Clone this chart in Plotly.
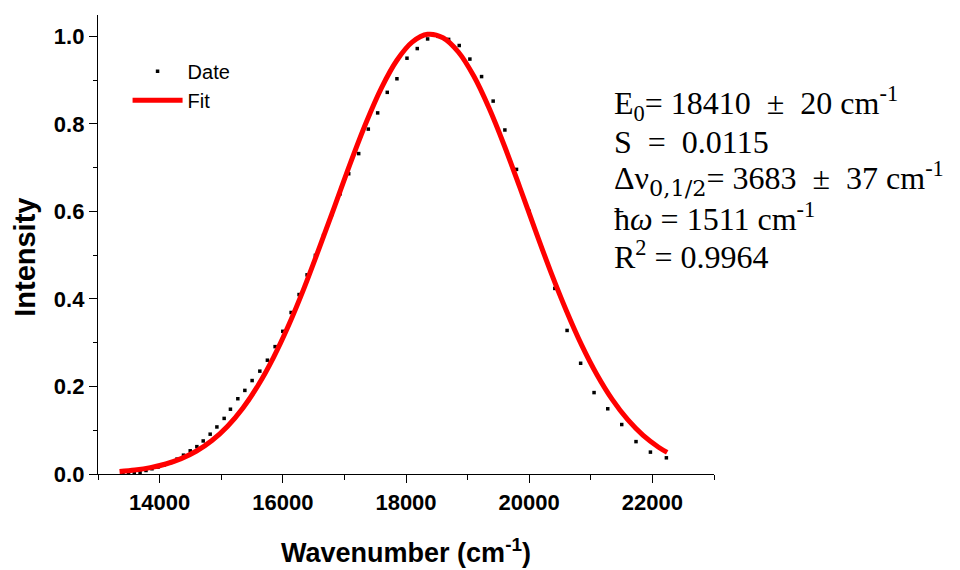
import plotly.graph_objects as go

# Measured emission spectrum (wavenumber in cm^-1, normalised intensity)
data_wavenumber = [
    13405, 13496, 13589, 13683, 13779, 13876, 13975, 14076, 14178, 14282,
    14388, 14497, 14605, 14708, 14821, 14930, 15048, 15150, 15270, 15384,
    15502, 15627, 15750, 15875, 16000, 16135, 16264, 16394, 16529, 16662,
    16796, 16929, 17070, 17232, 17388, 17540, 17696, 17853, 18016, 18183,
    18351, 18520, 18692, 18864, 19037, 19227, 19415, 19605, 19794, 20001,
    20208, 20416, 20615, 20835, 21053, 21275, 21502, 21734, 21968, 22227,
]
data_intensity = [
    0.002, 0.003, 0.004, 0.004, 0.008, 0.012, 0.016, 0.021, 0.026, 0.034,
    0.043, 0.053, 0.0625, 0.0755, 0.091, 0.1075, 0.127, 0.148, 0.172, 0.191,
    0.2135, 0.235, 0.260, 0.291, 0.326, 0.369, 0.410, 0.455, 0.4995, 0.545,
    0.593, 0.640, 0.686, 0.732, 0.788, 0.825, 0.872, 0.903, 0.950, 0.972,
    0.994, 1.000, 0.993, 0.979, 0.948, 0.908, 0.852, 0.786, 0.696, 0.600,
    0.515, 0.424, 0.328, 0.253, 0.186, 0.149, 0.113, 0.074, 0.050, 0.037,
]

# Fitted line shape
fit_wavenumber = [
    13350, 13600, 13850, 14100, 14350, 14600, 14850, 15100, 15350, 15600,
    15850, 16100, 16350, 16600, 16850, 17100, 17350, 17600, 17850, 18100,
    18350, 18600, 18850, 19100, 19350, 19600, 19850, 20100, 20350, 20600,
    20850, 21100, 21350, 21600, 21850, 22100, 22240,
]
fit_intensity = [
    0.0055, 0.0090, 0.0145, 0.0229, 0.0351, 0.0525, 0.0765, 0.1086, 0.1503, 0.2027,
    0.2665, 0.3415, 0.4264, 0.5193, 0.6148, 0.7115, 0.8021, 0.8818, 0.9448, 0.9867,
    1.0045, 0.9968, 0.9642, 0.9092, 0.8356, 0.7489, 0.6540, 0.5567, 0.4619, 0.3743,
    0.2951, 0.2268, 0.1699, 0.1240, 0.0882, 0.0612, 0.0494,
]

x_ticks = [14000, 16000, 18000, 20000, 22000]
y_ticks = [0.0, 0.2, 0.4, 0.6, 0.8, 1.0]

pm = "\u2002\u00b1\u2002"
fit_params = [
    f"E<sub>0</sub>= 18410{pm}20 cm<sup>-1</sup>",
    "S \u00a0=\u00a0 0.0115",
    f"\u0394\u03bd<span style='font-family:DejaVu Serif'><sub>0,1/2</sub></span>= 3683{pm}37 cm<sup>-1</sup>",
    "\u0127<i>\u03c9</i> = 1511 cm<sup>-1</sup>",
    "R<sup>2</sup> = 0.9964",
]

fig = go.Figure()
fig.add_trace(go.Scatter(
    x=data_wavenumber, y=data_intensity, mode="markers", name="Date",
    marker=dict(symbol="square", size=3.5, color="black"),
    cliponaxis=False,
))
fig.add_trace(go.Scatter(
    x=fit_wavenumber, y=fit_intensity, mode="lines", name="Fit",
    line=dict(color="#ff0000", width=5, shape="spline"),
    cliponaxis=False,
))

sans = "Liberation Sans, Arial"
tick_font = dict(family=sans, size=22, color="black", weight="bold")

fig.update_xaxes(
    range=[13000, 23000], tickvals=x_ticks, ticktext=[str(v) for v in x_ticks],
    showline=True, linecolor="black", linewidth=1.3, mirror=False,
    ticks="outside", ticklen=8, tickwidth=1.3, tickcolor="black",
    minor=dict(dtick=1000, tick0=13000, ticks="outside", ticklen=5, tickwidth=1.3, tickcolor="black"),
    showgrid=False, zeroline=False, tickfont=tick_font, automargin=False,
    title=dict(text="Wavenumber (cm<sup>-1</sup>)",
               font=dict(family=sans, size=27, color="black", weight="bold"), standoff=29),
)
fig.update_yaxes(
    range=[0, 1.0487], tickvals=y_ticks, ticktext=[f"{v:.1f}" for v in y_ticks],
    showline=True, linecolor="black", linewidth=1.3, mirror=False,
    ticks="outside", ticklen=8, tickwidth=1.3, tickcolor="black",
    minor=dict(dtick=0.1, tick0=0, ticks="outside", ticklen=4, tickwidth=1.3, tickcolor="black"),
    showgrid=False, zeroline=False, tickfont=tick_font, automargin=False,
)

# Vertical axis label, sitting a little below the middle of the axis
fig.add_annotation(
    text="<b>Intensity</b>", xref="paper", yref="paper",
    x=(25 - 97.7) / 616.6, y=(473.5 - 257) / 458.8,
    xanchor="center", yanchor="middle", textangle=-90, showarrow=False,
    font=dict(family=sans, size=29, color="black"),
)

line_y = [103, 142, 178, 217, 255]
for text, py in zip(fit_params, line_y):
    fig.add_annotation(
        text=text, xref="paper", yref="paper",
        x=(612 - 97.7) / 616.6, y=(473.5 - py) / 458.8,
        xanchor="left", yanchor="middle", showarrow=False,
        font=dict(family="Liberation Serif, Times New Roman", size=32, color="black"),
    )

fig.update_layout(
    width=960, height=570,
    margin=dict(l=98, r=246, t=15, b=96),
    plot_bgcolor="white", paper_bgcolor="white",
    showlegend=True,
    legend=dict(
        x=0.048, y=0.92, xanchor="left", yanchor="top",
        bgcolor="rgba(0,0,0,0)", font=dict(family=sans, size=20, color="black"),
        itemwidth=50, tracegroupgap=0,
    ),
)

fig.write_html("out.html")
